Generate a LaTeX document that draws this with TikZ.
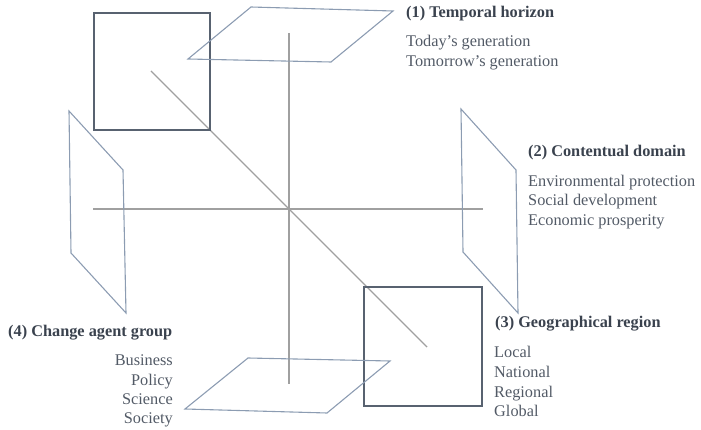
\documentclass[tikz,border=0pt]{standalone}
\usepackage{fontspec}
\setmainfont{Liberation Serif}
\definecolor{sqcol}{RGB}{88,98,112}
\definecolor{pgcol}{RGB}{140,156,178}
\definecolor{axcol}{RGB}{160,160,160}
\definecolor{ttlcol}{RGB}{58,66,78}
\definecolor{txtcol}{RGB}{82,90,102}
\tikzset{
  sqbox/.style={draw=sqcol, line width=1.4pt},
  plane/.style={draw=pgcol, line width=1.1pt, line join=miter},
  axis/.style={draw=axcol, line width=1.4pt},
  ttl/.style={inner sep=0pt, text=ttlcol, font=\fontsize{16.3}{19.7}\selectfont\bfseries},
  itm/.style={inner sep=0pt, text=txtcol, font=\fontsize{16.3}{19.7}\selectfont},
}
\begin{document}
\begin{tikzpicture}[x=1pt,y=-1pt]
\useasboundingbox (0,0) rectangle (701,430);
% axes end points
\coordinate (vtop) at (289,33);
\coordinate (vbot) at (289,384);
\coordinate (hl) at (93,209);
\coordinate (hr) at (483,209);
\coordinate (dtl) at (151,71);
\coordinate (dbr) at (427,347);
\draw[axis] (vtop) -- (vbot);
\draw[axis] (hl) -- (hr);
\draw[axis] (dtl) -- (dbr);
% squares
\draw[sqbox] (94,13) rectangle (210,130);
\draw[sqbox] (364,287) rectangle (482,406);
% planes
\draw[plane] (251,7) -- (393,11) -- (331,62) -- (188,59) -- cycle;
\draw[plane] (248,358) -- (390,361) -- (327,413) -- (185,409) -- cycle;
\draw[plane] (69,111) -- (123,170) -- (126,313) -- (71,253) -- cycle;
\draw[plane] (461,109) -- (516,170) -- (518,313) -- (463,252) -- cycle;
% (1)
\node[ttl, anchor=base west] (t1) at (406,17.3) {(1) Temporal horizon};
\node[itm, anchor=base west] (t1a) at (406,47) {Today’s generation};
\node[itm, anchor=base west] (t1b) at (406,66.5) {Tomorrow’s generation};
% (2)
\node[ttl, anchor=base west] (t2) at (528,157) {(2) Contentual domain};
\node[itm, anchor=base west] (t2a) at (528,186.5) {Environmental protection};
\node[itm, anchor=base west] (t2b) at (528,206) {Social development};
\node[itm, anchor=base west] (t2c) at (528,225.5) {Economic prosperity};
% (3)
\node[ttl, anchor=base west] (t3) at (495,327) {(3) Geographical region};
\node[itm, anchor=base west] (t3a) at (494,357.5) {Local};
\node[itm, anchor=base west] (t3b) at (494,377) {National};
\node[itm, anchor=base west] (t3c) at (494,397) {Regional};
\node[itm, anchor=base west] (t3d) at (494,416.5) {Global};
% (4)
\node[ttl, anchor=base west] (t4) at (8,336.7) {(4) Change agent group};
\node[itm, anchor=base east] (t4a) at (173,365) {Business};
\node[itm, anchor=base east] (t4b) at (173,385) {Policy};
\node[itm, anchor=base east] (t4c) at (173,404) {Science};
\node[itm, anchor=base east] (t4d) at (173,423.5) {Society};
\end{tikzpicture}
\end{document}
